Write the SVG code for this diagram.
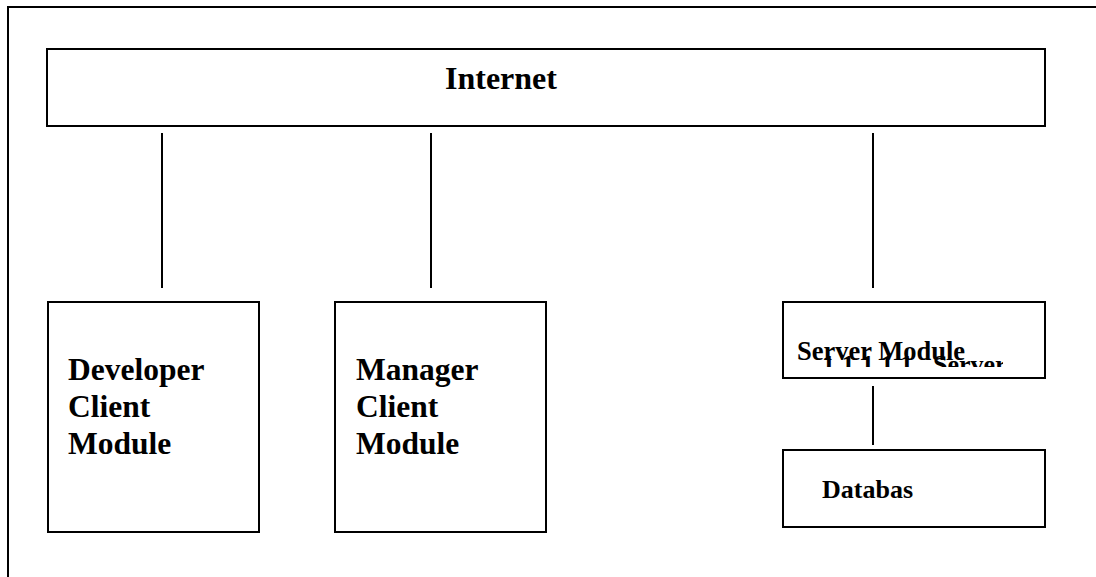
<svg xmlns="http://www.w3.org/2000/svg" width="1096" height="577" viewBox="0 0 1096 577">
  <style>
    .box { fill: #ffffff; stroke: #000000; stroke-width: 2; }
    .conn { stroke: #000000; stroke-width: 2; fill: none; }
    .t { font-family: "Liberation Serif", "Times New Roman", serif; font-weight: bold; fill: #000000; }
  </style>
  <defs>
    <clipPath id="numclip">
      <rect x="783" y="340" width="220" height="27"/>
    </clipPath>
  </defs>
  <rect x="0" y="0" width="1096" height="577" fill="#ffffff"/>
  <g id="frame">
    <path d="M8 577 V7 H1096" class="conn"/>
  </g>
  <g id="internet">
    <rect x="47" y="49" width="998" height="77" class="box"/>
    <text x="445" y="89" class="t" font-size="32">Internet</text>
  </g>
  <g id="developer">
    <rect x="48" y="302" width="211" height="230" class="box"/>
    <text class="t" font-size="31.5"><tspan x="68" y="380">Developer</tspan><tspan x="68" y="417">Client</tspan><tspan x="68" y="454">Module</tspan></text>
  </g>
  <g id="manager">
    <rect x="335" y="302" width="211" height="230" class="box"/>
    <text class="t" font-size="31.5"><tspan x="356" y="380">Manager</tspan><tspan x="356" y="417">Client</tspan><tspan x="356" y="454">Module</tspan></text>
  </g>
  <g id="server">
    <rect x="783" y="302" width="262" height="76" class="box"/>
    <g clip-path="url(#numclip)">
      <text y="373" class="t" font-size="26"><tspan x="822">1.1.1.1.1</tspan><tspan x="933">Server Module</tspan></text>
    </g>
    <text x="797" y="360" class="t" font-size="26.5">Server Module</text>
  </g>
  <g id="database">
    <rect x="783" y="450" width="262" height="77" class="box"/>
    <text x="822" y="498" class="t" font-size="26">Databas</text>
  </g>
  <g id="connectors">
    <line x1="162" y1="133" x2="162" y2="288" class="conn"/>
    <line x1="431" y1="133" x2="431" y2="288" class="conn"/>
    <line x1="873" y1="133" x2="873" y2="288" class="conn"/>
    <line x1="873" y1="386" x2="873" y2="445" class="conn"/>
  </g>
</svg>
